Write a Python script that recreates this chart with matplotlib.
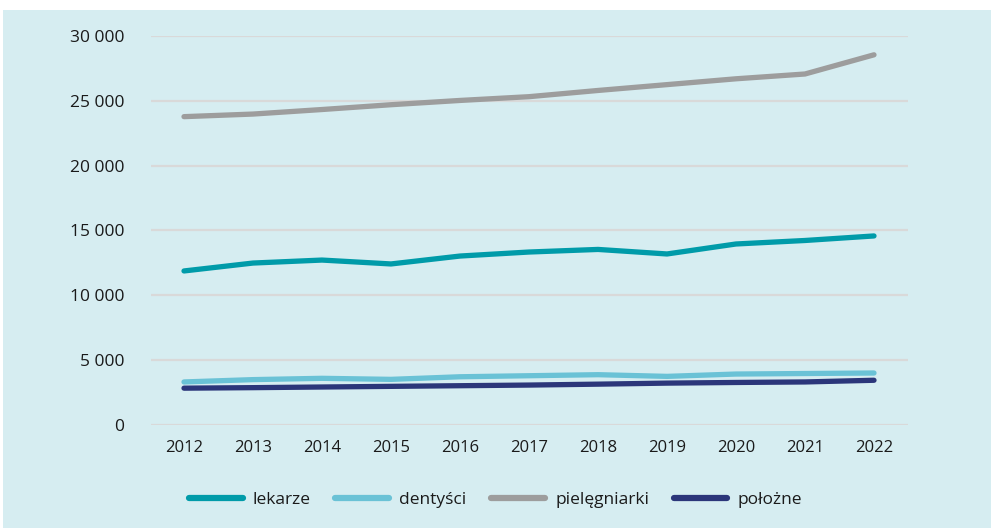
import numpy as np
import matplotlib.pyplot as plt
from matplotlib.patches import Rectangle

plt.rcParams['font.family'] = ['Open Sans', 'DejaVu Sans']

# data
years = ['2012', '2013', '2014', '2015', '2016', '2017', '2018', '2019', '2020', '2021', '2022']
lekarze = [11880, 12490, 12720, 12420, 13030, 13340, 13540, 13190, 13960, 14230, 14580]
dentysci = [3320, 3500, 3600, 3520, 3720, 3800, 3880, 3750, 3930, 3970, 4010]
pielegniarki = [23780, 23980, 24330, 24700, 25030, 25320, 25800, 26250, 26700, 27070, 28550]
polozne = [2840, 2880, 2930, 2980, 3030, 3080, 3150, 3230, 3280, 3320, 3450]

series = [('lekarze', lekarze, '#009ba9'),
          ('dentyści', dentysci, '#6ac2d6'),
          ('pielęgniarki', pielegniarki, '#9d9d9d'),
          ('położne', polozne, '#2b367a')]

W, H = 991, 528
fig = plt.figure(figsize=(W / 100, H / 100), dpi=100)
fig.patch.set_facecolor('white')
# light blue panel behind everything
fig.patches.append(Rectangle((3 / W, 0), 1 - 3 / W, 1 - 10 / H,
                             transform=fig.transFigure, facecolor='#d6edf1',
                             edgecolor='none', zorder=-5))

ax = fig.add_axes([151 / W, 1 - 425 / H, (908 - 151) / W, (425 - 36) / H])
ax.set_zorder(2)
ax.set_facecolor('none')

x = np.arange(len(years))
for name, vals, col in series:
    ax.plot(x, vals, color=col, lw=3.8, solid_capstyle='round',
            solid_joinstyle='round', label=name, zorder=3)

ax.set_ylim(0, 30000)
ax.set_xlim(-33 / 69, 10 + 34 / 69)
yt = np.arange(0, 30001, 5000)
ax.set_yticks(yt)
ax.set_yticklabels([f'{v:,}'.replace(',', ' ') for v in yt])
ax.set_xticks(x)
ax.set_xticklabels(years)
ax.grid(axis='y', color='#d9d9d9', lw=1.6, zorder=1)
ax.grid(axis='x', visible=False)
for s in ax.spines.values():
    s.set_visible(False)
ax.tick_params(axis='y', length=0, pad=19, labelsize=12.5, labelcolor='#1a1a1a')
ax.tick_params(axis='x', length=0, pad=11, labelsize=12, labelcolor='#1a1a1a')

leg = fig.legend(loc='center', bbox_to_anchor=(0.5, 1 - 500 / H), ncol=4,
                 frameon=False, fontsize=12.5, handlelength=3.1, handletextpad=0.6,
                 columnspacing=1.4, labelcolor='#1a1a1a')
for h in leg.get_lines():
    h.set_linewidth(4.5)

fig.savefig('out.png', dpi=100, facecolor='white')
